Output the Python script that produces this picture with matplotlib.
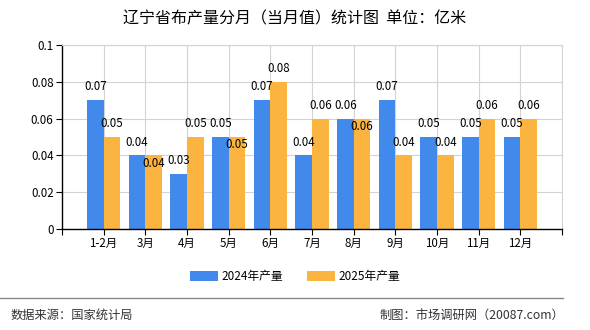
import numpy as np
import matplotlib.pyplot as plt

plt.rcParams['font.family'] = ['Noto Sans CJK SC', 'DejaVu Sans']

# data
months = ["1-2月", "3月", "4月", "5月", "6月", "7月", "8月", "9月", "10月", "11月", "12月"]
prod_2024 = [0.07, 0.04, 0.03, 0.05, 0.07, 0.04, 0.06, 0.07, 0.05, 0.05, 0.05]
prod_2025 = [0.05, 0.04, 0.05, 0.05, 0.08, 0.06, 0.06, 0.04, 0.04, 0.06, 0.06]
yticks = [0, 0.02, 0.04, 0.06, 0.08, 0.1]
ytick_labels = ["0", "0.02", "0.04", "0.06", "0.08", "0.1"]

blue = "#418AEB"
orange = "#FBB440"

fig = plt.figure(figsize=(5.9, 3.3), dpi=100)
ax = fig.add_axes([0.105, 0.306, 0.8475, 0.558])

x = np.arange(len(months))
w = 0.4
ax.bar(x - w / 2, prod_2024, w, color=blue, label="2024年产量", zorder=2)
ax.bar(x + w / 2, prod_2025, w, color=orange, label="2025年产量", zorder=2)

# value labels; the 2025 label drops inside the bar when both values are equal
for i in range(len(months)):
    ax.annotate(f"{prod_2024[i]:.2f}", (x[i] - w / 2, prod_2024[i]), xytext=(0, 9.5),
                textcoords="offset points", ha="center", va="center", fontsize=8.3, zorder=3)
    off = -5.5 if prod_2025[i] == prod_2024[i] else 9.5
    ax.annotate(f"{prod_2025[i]:.2f}", (x[i] + w / 2, prod_2025[i]), xytext=(0, off),
                textcoords="offset points", ha="center", va="center", fontsize=8.3, zorder=3)

ax.set_xlim(-1, len(months))
ax.set_ylim(0, 0.1)
ax.set_yticks(yticks)
ax.set_yticklabels(ytick_labels, fontsize=8.3)
ax.set_xticks(list(x))
ax.set_xticklabels(months, fontsize=8.3)
ax.set_xticks([-1, len(months)], minor=True)
ax.tick_params(axis="both", which="both", length=4, width=0.8, color="black", pad=2)

ax.grid(True, color="#d3d3d3", linewidth=0.8, zorder=0)
ax.set_axisbelow(True)
for s in ["top", "right"]:
    ax.spines[s].set_color("#d3d3d3")
    ax.spines[s].set_linewidth(0.8)
for s in ["left", "bottom"]:
    ax.spines[s].set_color("black")
    ax.spines[s].set_linewidth(1.0)

fig.text(0.5, 0.942, "辽宁省布产量分月（当月值）统计图  单位：亿米", ha="center", va="center", fontsize=11.5)

fig.legend(loc="center", bbox_to_anchor=(0.5, 0.163), ncol=2, frameon=False, fontsize=8.5,
           handlelength=2.4, handleheight=0.9, columnspacing=2.0, handletextpad=0.3)

fig.add_artist(plt.Line2D([0, 0.955], [0.097, 0.097], color="#888888", linewidth=1.0))
fig.text(0.017, 0.045, "数据来源：国家统计局", ha="left", va="center", fontsize=8.8, color="#333333")
fig.text(0.956, 0.045, "制图：市场调研网（20087.com）", ha="right", va="center", fontsize=8.8, color="#333333")

fig.savefig("out.png", dpi=100)
